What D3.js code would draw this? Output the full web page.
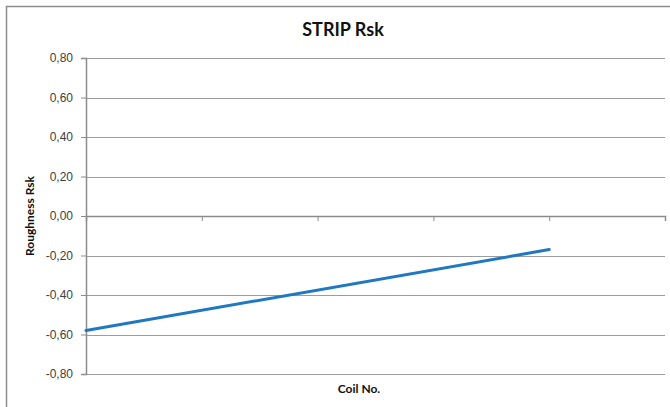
<!DOCTYPE html>
<html>
<head>
<meta charset="utf-8">
<script src="https://cdn.jsdelivr.net/npm/d3@7"></script>
<style>
  html, body { margin: 0; padding: 0; background: #fff; }
  svg { display: block; font-family: Lato, "Open Sans", sans-serif; }
</style>
</head>
<body>
<div id="chart"></div>
<script>
// Chart data (Excel-style line chart, blank category labels)
const CATEGORIES = ['1', '2', '3', '4', '5', '6'];
const RSK_VALUES = [-0.58, null, null, null, -0.17, null];
const Y_TICKS = [-0.8, -0.6, -0.4, -0.2, 0, 0.2, 0.4, 0.6, 0.8];

const WIDTH = 670;
const HEIGHT = 407;
const MARGIN = { top: 58, right: 5, bottom: 33, left: 86 };
const GRID = '#8c8c8c';
const LINE_COLOR = '#1f78c1';

const innerW = WIDTH - MARGIN.left - MARGIN.right;
const innerH = HEIGHT - MARGIN.top - MARGIN.bottom;

const svg = d3.select('#chart').append('svg')
  .attr('width', WIDTH)
  .attr('height', HEIGHT);

// outer chart frame (only top and left edges visible in the window)
svg.append('rect')
  .attr('x', 6.5).attr('y', 6.5)
  .attr('width', WIDTH + 20).attr('height', HEIGHT + 20)
  .attr('fill', 'none')
  .attr('stroke', GRID)
  .attr('stroke-width', 1.5);

svg.append('text')
  .attr('x', 343).attr('y', 36)
  .attr('text-anchor', 'middle')
  .attr('font-size', '18px')
  .attr('font-weight', 'bold')
  .attr('fill', '#111')
  .text('STRIP Rsk');

const g = svg.append('g').attr('transform', `translate(${MARGIN.left},${MARGIN.top})`);

const x = d3.scalePoint().domain(CATEGORIES).range([0, innerW]);
const y = d3.scaleLinear().domain([-0.8, 0.8]).range([innerH, 0]);

// horizontal gridlines
g.append('g')
  .selectAll('line')
  .data(Y_TICKS)
  .join('line')
  .attr('x1', 0).attr('x2', innerW)
  .attr('y1', (d) => Math.round(y(d)) + 0.5)
  .attr('y2', (d) => Math.round(y(d)) + 0.5)
  .attr('stroke', GRID)
  .attr('stroke-width', 1)
  .attr('opacity', 0.85);

// y axis
const yAxis = d3.axisLeft(y)
  .tickValues(Y_TICKS)
  .tickSize(5)
  .tickPadding(8)
  .tickFormat((d) => d3.format('.2f')(d).replace('.', ',').replace('−', '-'));

const yG = g.append('g').call(yAxis);
yG.select('.domain').attr('stroke', GRID).attr('stroke-width', 1.5);
yG.selectAll('.tick line').attr('stroke', GRID);
yG.selectAll('text').attr('font-size', '12px').attr('fill', '#404040');

// x axis sitting on zero
const xAxis = d3.axisBottom(x).tickSize(5).tickFormat('');
const xG = g.append('g')
  .attr('transform', `translate(0,${y(0)})`)
  .call(xAxis);
xG.select('.domain').attr('stroke', GRID).attr('stroke-width', 1.5);
xG.selectAll('.tick line').attr('stroke', GRID);

g.append('text')
  .attr('x', 273).attr('y', innerH + 19)
  .attr('text-anchor', 'middle')
  .attr('font-size', '12px')
  .attr('font-weight', 'bold')
  .attr('fill', '#111')
  .text('Coil No.');

g.append('text')
  .attr('transform', `translate(-52,${innerH / 2}) rotate(-90)`)
  .attr('text-anchor', 'middle')
  .attr('font-size', '12px')
  .attr('font-weight', 'bold')
  .attr('fill', '#111')
  .text('Roughness Rsk');

// series line, gaps connected like Excel
const points = CATEGORIES
  .map((c, i) => ({ c, v: RSK_VALUES[i] }))
  .filter((d) => d.v !== null);

g.append('path')
  .datum(points)
  .attr('d', d3.line().x((d) => x(d.c)).y((d) => y(d.v)))
  .attr('fill', 'none')
  .attr('stroke', LINE_COLOR)
  .attr('stroke-width', 3)
  .attr('stroke-linecap', 'round');
</script>
</body>
</html>
